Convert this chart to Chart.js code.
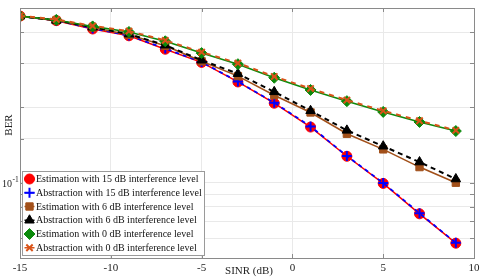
<!DOCTYPE html>
<html>
<head>
<meta charset="utf-8">
<script src="https://cdn.jsdelivr.net/npm/chart.js@4/dist/chart.umd.min.js"></script>
<style>
  html, body { margin: 0; padding: 0; background: #ffffff; }
  #wrap { width: 485px; height: 277px; position: relative; }
</style>
</head>
<body>
<div id="wrap"><canvas id="c" width="485" height="277"></canvas></div>
<script>
// ---- data ----
const sinr = [-15, -13, -11, -9, -7, -5, -3, -1, 1, 3, 5, 7, 9];
const est15 = [0.464, 0.445, 0.412, 0.387, 0.342, 0.303, 0.253, 0.208, 0.167, 0.1276, 0.0994, 0.0751, 0.0573];
const abs15 = [0.464, 0.446, 0.414, 0.388, 0.344, 0.304, 0.254, 0.209, 0.168, 0.128, 0.0998, 0.0755, 0.0575];
const est6  = [0.464, 0.446, 0.418, 0.391, 0.353, 0.306, 0.267, 0.224, 0.191, 0.157, 0.136, 0.1155, 0.100];
const abs6  = [0.464, 0.446, 0.419, 0.393, 0.355, 0.309, 0.273, 0.231, 0.194, 0.162, 0.140, 0.121, 0.1035];
const est0  = [0.464, 0.448, 0.422, 0.401, 0.368, 0.330, 0.298, 0.263, 0.235, 0.212, 0.192, 0.175, 0.161];
const abs0  = [0.465, 0.450, 0.424, 0.404, 0.371, 0.333, 0.301, 0.266, 0.238, 0.214, 0.194, 0.177, 0.162];

const seriesLabels = [
  'Estimation with 15 dB interference level',
  'Abstraction with 15 dB interference level',
  'Estimation with 6 dB interference level',
  'Abstraction with 6 dB interference level',
  'Estimation with 0 dB interference level',
  'Abstraction with 0 dB interference level'
];
const xTickValues = [-15, -10, -5, 0, 5, 10];
const yTickLabels = [{ value: 0.1, base: '10', exp: '-1' }];
const xTitle = 'SINR (dB)';
const yTitle = 'BER';

const SERIF = "'Liberation Serif', 'Times New Roman', serif";
const FRAME = '#8a8a8a';

function pts(ys) { return sinr.map((x, i) => ({ x: x, y: ys[i] })); }

const styles = [
  { color: '#ff0000', dash: [], point: 'circle', r: 5, bw: 1.5, pbw: 1 },
  { color: '#0000ff', dash: [4, 4], point: 'cross', r: 5, bw: 1.8, pbw: 2 },
  { color: '#a2501a', dash: [], point: 'rect', r: 5.2, bw: 1.6, pbw: 1 },
  { color: '#000000', dash: [5, 4], point: 'triangle', r: 5.5, bw: 2, pbw: 1 },
  { color: '#0b8a0b', dash: [], point: 'rectRot', r: 5.5, bw: 1.6, pbw: 1 },
  { color: '#d95319', dash: [5, 5], point: 'crossRot', r: 4.5, bw: 2, pbw: 2 }
];
const seriesData = [est15, abs15, est6, abs6, est0, abs0];

const datasets = seriesData.map((ys, i) => {
  const s = styles[i];
  return {
    label: seriesLabels[i],
    data: pts(ys),
    borderColor: s.color,
    backgroundColor: s.color,
    borderWidth: s.bw,
    borderDash: s.dash,
    pointStyle: s.point,
    pointRadius: s.r,
    pointBorderWidth: s.pbw,
    pointBackgroundColor: s.color,
    pointBorderColor: s.color,
    tension: 0,
    order: 6 - i
  };
});

function drawMarker(ctx, style, r, x, y) {
  if (Chart.helpers && Chart.helpers.drawPoint) {
    Chart.helpers.drawPoint(ctx, { pointStyle: style, radius: r, rotation: 0, borderWidth: ctx.lineWidth }, x, y);
    return;
  }
  ctx.beginPath();
  if (style === 'circle') { ctx.arc(x, y, r, 0, Math.PI * 2); ctx.fill(); ctx.stroke(); }
  else if (style === 'rect') { const s = r * Math.SQRT1_2; ctx.rect(x - s, y - s, 2 * s, 2 * s); ctx.fill(); ctx.stroke(); }
  else if (style === 'rectRot') { ctx.moveTo(x, y - r); ctx.lineTo(x + r, y); ctx.lineTo(x, y + r); ctx.lineTo(x - r, y); ctx.closePath(); ctx.fill(); ctx.stroke(); }
  else if (style === 'triangle') { ctx.moveTo(x, y - r); ctx.lineTo(x + r * 0.87, y + r / 2); ctx.lineTo(x - r * 0.87, y + r / 2); ctx.closePath(); ctx.fill(); ctx.stroke(); }
  else if (style === 'cross') { ctx.moveTo(x - r, y); ctx.lineTo(x + r, y); ctx.moveTo(x, y - r); ctx.lineTo(x, y + r); ctx.stroke(); }
  else if (style === 'crossRot') { const s = r * Math.SQRT1_2; ctx.moveTo(x - s, y - s); ctx.lineTo(x + s, y + s); ctx.moveTo(x + s, y - s); ctx.lineTo(x - s, y + s); ctx.stroke(); }
}

const framePlugin = {
  id: 'frame',
  afterDraw(chart) {
    const ctx = chart.ctx;
    const a = chart.chartArea;
    const xs = chart.scales.x, ys = chart.scales.y;
    ctx.save();
    // box
    ctx.strokeStyle = FRAME;
    ctx.lineWidth = 1;
    ctx.setLineDash([]);
    ctx.strokeRect(Math.round(a.left) + 0.5, Math.round(a.top) + 0.5,
                   Math.round(a.right - a.left), Math.round(a.bottom - a.top));
    // inward ticks
    const tl = 4;
    ctx.beginPath();
    xs.ticks.forEach(t => {
      const px = Math.round(xs.getPixelForValue(t.value)) + 0.5;
      ctx.moveTo(px, a.bottom); ctx.lineTo(px, a.bottom - tl);
      ctx.moveTo(px, a.top); ctx.lineTo(px, a.top + tl);
    });
    ys.ticks.forEach(t => {
      const py = Math.round(ys.getPixelForValue(t.value)) + 0.5;
      ctx.moveTo(a.left, py); ctx.lineTo(a.left + tl, py);
      ctx.moveTo(a.right, py); ctx.lineTo(a.right - tl, py);
    });
    ctx.stroke();

    // axis titles
    ctx.font = '11px ' + SERIF;
    ctx.fillStyle = '#222';
    ctx.textAlign = 'center';
    ctx.textBaseline = 'middle';
    ctx.fillText(xTitle, 249, 271);
    ctx.save();
    ctx.translate(9, 125);
    ctx.rotate(-Math.PI / 2);
    ctx.fillText(yTitle, 0, 0);
    ctx.restore();

    // legend
    const lx = 22.5, ly = 171.5, lw = 182, lh = 84;
    ctx.fillStyle = '#ffffff';
    ctx.fillRect(lx, ly, lw, lh);
    ctx.strokeStyle = '#9a9a9a';
    ctx.lineWidth = 1;
    ctx.strokeRect(lx, ly, lw, lh);
    const rowH = 13.75;
    chart.data.datasets.forEach((ds, i) => {
      const s = styles[i];
      const cy = ly + 7.5 + i * rowH;
      const cx = 29.5;
      ctx.save();
      ctx.strokeStyle = s.color;
      ctx.fillStyle = s.color;
      ctx.lineWidth = 1.5;
      ctx.setLineDash([]);
      ctx.beginPath();
      ctx.moveTo(cx - 5, cy); ctx.lineTo(cx + 5, cy);
      ctx.stroke();
      ctx.lineWidth = s.pbw;
      drawMarker(ctx, s.point, s.r, cx, cy);
      ctx.restore();
      ctx.fillStyle = '#111';
      ctx.font = '10px ' + SERIF;
      ctx.textAlign = 'left';
      ctx.textBaseline = 'middle';
      ctx.fillText(ds.label, 36, cy + 0.5);
    });

    // y tick labels with superscript
    ctx.fillStyle = '#222';
    yTickLabels.forEach(l => {
      const py = ys.getPixelForValue(l.value);
      ctx.font = '10px ' + SERIF;
      ctx.textBaseline = 'middle';
      ctx.textAlign = 'left';
      ctx.fillText(l.base, 2, py + 2);
      const w = ctx.measureText(l.base).width;
      ctx.font = '7.5px ' + SERIF;
      ctx.fillText(l.exp, 2 + w + 0.5, py - 2.5);
    });
    ctx.restore();
  }
};

new Chart(document.getElementById('c'), {
  type: 'line',
  data: { datasets: datasets },
  plugins: [framePlugin],
  options: {
    responsive: false,
    animation: false,
    devicePixelRatio: 1,
    layout: { padding: { top: 8, right: 11, left: 0, bottom: 0 } },
    plugins: { legend: { display: false }, tooltip: { enabled: false } },
    scales: {
      x: {
        type: 'linear',
        min: -15, max: 10,
        afterFit(s) { s.height = 19; },
        afterBuildTicks(s) { s.ticks = xTickValues.map(v => ({ value: v })); },
        grid: { color: '#e9e9e9', drawTicks: false, lineWidth: 1 },
        border: { display: false },
        ticks: {
          font: { family: SERIF, size: 11 },
          color: '#222',
          padding: 4,
          maxRotation: 0,
          autoSkip: false,
          callback: v => String(v)
        }
      },
      y: {
        type: 'logarithmic',
        min: 0.05, max: 0.5,
        afterFit(s) { s.width = 20; },
        grid: { color: '#e9e9e9', drawTicks: false, lineWidth: 1 },
        border: { display: false },
        ticks: { display: false, autoSkip: false, callback: () => '' }
      }
    }
  }
});
</script>
</body>
</html>
